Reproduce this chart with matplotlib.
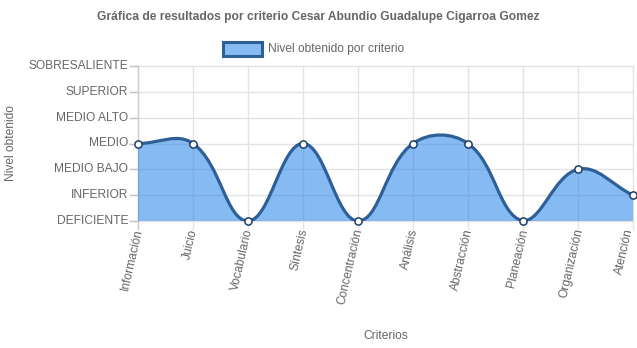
import matplotlib
matplotlib.use("Agg")
import matplotlib.pyplot as plt
from matplotlib.path import Path
from matplotlib.patches import PathPatch, Rectangle
import numpy as np

plt.rcParams['font.family'] = ['Liberation Sans', 'DejaVu Sans']

title = "Gráfica de resultados por criterio Cesar Abundio Guadalupe Cigarroa Gomez"
categories = ["Información", "Juicio", "Vocabulario", "Síntesis", "Concentración",
              "Análisis", "Abstracción", "Planeación", "Organización", "Atención"]
levels = ["DEFICIENTE", "INFERIOR", "MEDIO BAJO", "MEDIO", "MEDIO ALTO",
          "SUPERIOR", "SOBRESALIENTE"]
values = [3, 3, 0, 3, 0, 3, 3, 0, 2, 1]
series_label = "Nivel obtenido por criterio"
x_title = "Criterios"
y_title = "Nivel obtenido"

W, H = 637, 348
DPI = 100
fig = plt.figure(figsize=(W / DPI, H / DPI), dpi=DPI)
L, R, T, B = 138, 633, 66, 221
ax = fig.add_axes([L / W, 1 - B / H, (R - L) / W, (B - T) / H])
ax.set_xlim(0, len(categories) - 1)
ax.set_ylim(0, len(levels) - 1)
ax.patch.set_visible(False)

LINE = '#2e5f97'
FILL = (54 / 255, 140 / 255, 235 / 255, 0.6)
GRID = '#e3e3e3'
TXT = '#666666'

for s in ax.spines.values():
    s.set_visible(False)
ax.set_xticks([])
ax.set_yticks([])

# grid lines (with tick-mark extensions outside the plot), behind the axes
for i in range(len(levels)):
    yf = 1 - (B - (i / (len(levels) - 1)) * (B - T)) / H
    fig.add_artist(plt.Line2D([(L - 8) / W, R / W], [yf, yf], color=GRID, lw=1.0, zorder=-2))
for i in range(len(categories)):
    xf = (L + i * (R - L) / (len(categories) - 1)) / W
    fig.add_artist(plt.Line2D([xf, xf], [1 - T / H, 1 - (B + 8) / H], color=GRID, lw=1.0, zorder=-2))
fig.add_artist(plt.Line2D([L / W, L / W], [1 - T / H, 1 - (B + 8) / H], color='#cfcfcf', lw=1.0, zorder=-1))
for i in range(len(levels)):
    yf = 1 - (B - (i / (len(levels) - 1)) * (B - T)) / H
    fig.add_artist(plt.Line2D([(L - 8) / W, L / W], [yf, yf], color='#c4c4c4', lw=1.0, zorder=-1))

# Chart.js style tension spline in pixel space
fig.canvas.draw()
tr = ax.transData
pts = tr.transform(np.column_stack([np.arange(len(values)), values]))
bbox = ax.bbox
tension = 0.4
n = len(pts)
cps_prev = np.zeros_like(pts)
cps_next = np.zeros_like(pts)
for i in range(n):
    p0 = pts[i - 1] if i > 0 else pts[i]
    p1 = pts[i]
    p2 = pts[i + 1] if i < n - 1 else pts[i]
    d01 = np.hypot(*(p1 - p0))
    d12 = np.hypot(*(p2 - p1))
    tot = d01 + d12
    s01 = d01 / tot if tot else 0
    s12 = d12 / tot if tot else 0
    cps_prev[i] = p1 - tension * s01 * (p2 - p0)
    cps_next[i] = p1 + tension * s12 * (p2 - p0)
for arr in (cps_prev, cps_next):
    arr[:, 0] = np.clip(arr[:, 0], bbox.x0, bbox.x1)
    arr[:, 1] = np.clip(arr[:, 1], bbox.y0, bbox.y1)

inv = tr.inverted()
verts = [pts[0]]
codes = [Path.MOVETO]
for i in range(n - 1):
    verts += [cps_next[i], cps_prev[i + 1], pts[i + 1]]
    codes += [Path.CURVE4] * 3
verts_d = inv.transform(np.array(verts))
line_path = Path(verts_d, codes)

fill_verts = list(verts_d) + [[n - 1, 0], [0, 0], verts_d[0]]
fill_codes = codes + [Path.LINETO, Path.LINETO, Path.CLOSEPOLY]
ax.add_patch(PathPatch(Path(fill_verts, fill_codes), facecolor=FILL, edgecolor='none', zorder=1))
ax.add_patch(PathPatch(line_path, facecolor='none', edgecolor=LINE, lw=2.3, zorder=2,
                       capstyle='round', joinstyle='round'))
ax.plot(range(n), values, 'o', ms=5.2, mfc='white', mec='#1f3f66', mew=1.1, zorder=3, clip_on=False)

fs = 12 * 72 / DPI
for i, lab in enumerate(levels):
    yf = 1 - (B - (i / (len(levels) - 1)) * (B - T)) / H
    fig.text((L - 10) / W, yf, lab, ha='right', va='center', fontsize=fs, color=TXT)
for i, lab in enumerate(categories):
    off = 1 if i < len(categories) - 1 else -3
    xf = (L + i * (R - L) / (len(categories) - 1) + off) / W
    fig.text(xf, 1 - 229 / H, lab, ha='right', va='center', rotation=77,
             rotation_mode='anchor', fontsize=fs, color=TXT)

fig.text((L + R) / 2 / W, 1 - 336 / H, x_title, ha='center', va='center', fontsize=fs, color=TXT)
fig.text(11 / W, 1 - 143 / H, y_title, ha='center', va='center', rotation=90, fontsize=fs, color=TXT)
fig.text(318 / W, 1 - 17 / H, title, ha='center', va='center', fontsize=fs, color=TXT, fontweight='bold')

fig.add_artist(Rectangle((223 / W, 1 - 56 / H), 39 / W, 14 / H, transform=fig.transFigure,
                         facecolor=FILL, edgecolor=LINE, lw=2.2))
fig.text(268 / W, 1 - 49 / H, series_label, ha='left', va='center', fontsize=fs, color=TXT)

fig.savefig("out.png", dpi=DPI)
